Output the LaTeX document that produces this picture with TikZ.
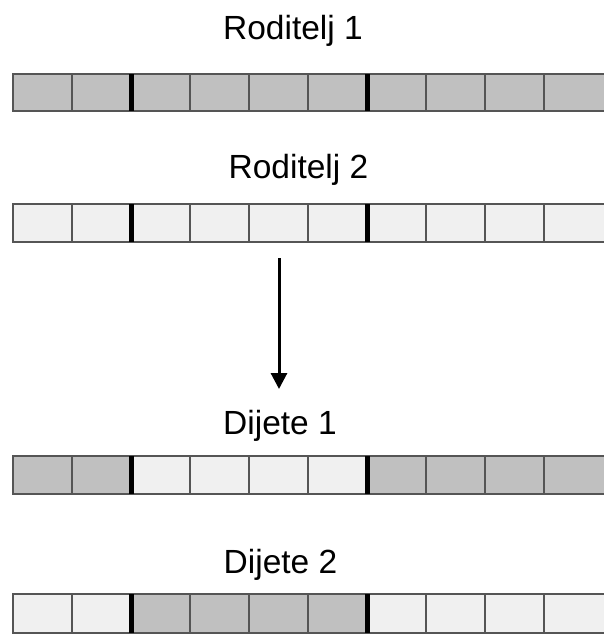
\documentclass[tikz,border=0pt]{standalone}
\usepackage{fontspec}
\setmainfont{Liberation Sans}
\usetikzlibrary{arrows.meta}
\definecolor{G}{HTML}{C0C0C0}
\definecolor{L}{HTML}{F0F0F0}
\definecolor{edge}{HTML}{555555}
\tikzset{
  cellbox/.style={draw=edge, line width=2pt},
  cutline/.style={draw=black, line width=5pt},
  lbl/.style={anchor=base, inner sep=0pt, font=\fontsize{33.5}{40}\selectfont},
  arr/.style={line width=3pt, -{Triangle[width=16pt,length=16pt]}}
}
\newcommand\genestrip[3]{%
  \foreach \c [count=\i from 0] in {#3} {
    \pgfmathsetmacro\xr{\i==9 ? 608 : 72+59*\i}
    \draw[cellbox, fill=\c] ({13+59*\i},#1) rectangle (\xr,#2);
  }
  \draw[cutline] (131,#1) -- (131,#2);
  \draw[cutline] (367,#1) -- (367,#2);
}
\begin{document}
\begin{tikzpicture}[x=1pt,y=-1pt]
\useasboundingbox (0,0) rectangle (603,635);
\node[lbl] (t1) at (293,39) {Roditelj 1};
\genestrip{74}{111}{G,G,G,G,G,G,G,G,G,G}
\node[lbl] (t2) at (298.5,178) {Roditelj 2};
\genestrip{204}{242}{L,L,L,L,L,L,L,L,L,L}
\coordinate (a1) at (279,258);
\coordinate (a2) at (279,389);
\draw[arr] (a1) -- (a2);
\node[lbl] (t3) at (280,434) {Dijete 1};
\genestrip{456}{494}{G,G,L,L,L,L,G,G,G,G}
\node[lbl] (t4) at (280.5,573) {Dijete 2};
\genestrip{594}{633}{L,L,G,G,G,G,L,L,L,L}
\end{tikzpicture}
\end{document}
